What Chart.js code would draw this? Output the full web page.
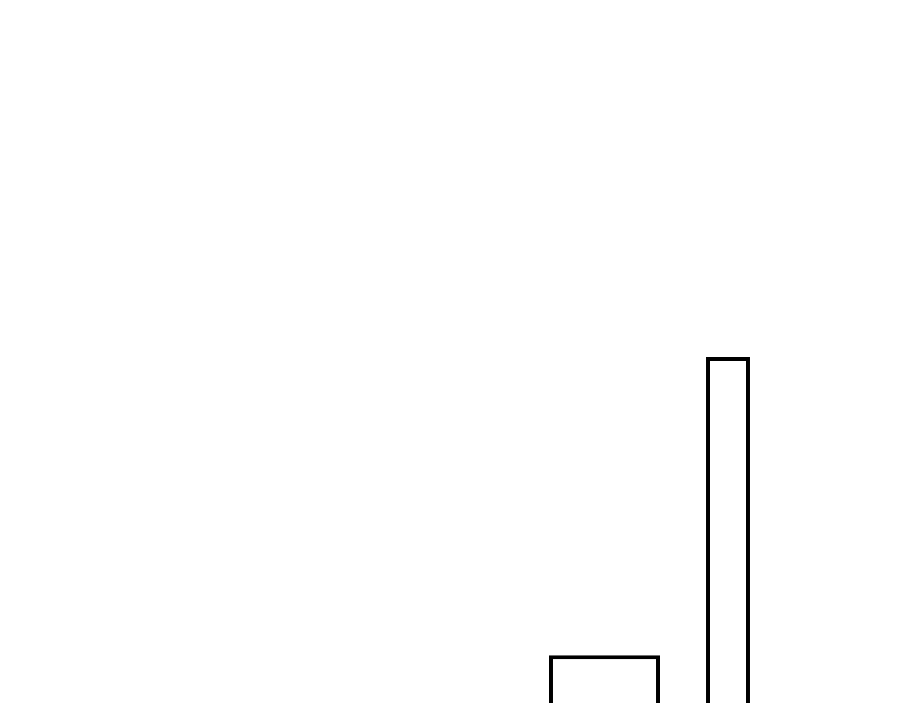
<!DOCTYPE html>
<html>
<head>
<meta charset="utf-8">
<script src="https://cdn.jsdelivr.net/npm/chart.js@4"></script>
<style>
  html, body { margin: 0; padding: 0; background: #fff; overflow: hidden; }
  #wrap { width: 900px; height: 703px; position: relative; }
</style>
</head>
<body>
<div id="wrap"><canvas id="barras"></canvas></div>
<script>
const categorias = ['1', '2', '3', '4', '5', '6'];
const serieLarga = [null, null, null, null, 6.8, null];
const serieEstreita = [null, null, null, null, null, 49.2];

const ctxBarras = document.getElementById('barras');

new Chart(ctxBarras, {
  type: 'bar',
  data: {
    labels: categorias,
    datasets: [{
      data: serieLarga,
      backgroundColor: '#ffffff',
      borderColor: '#000000',
      borderWidth: 4,
      barPercentage: 0.899,
      categoryPercentage: 1
    }, {
      data: serieEstreita,
      backgroundColor: '#ffffff',
      borderColor: '#000000',
      borderWidth: 4,
      barPercentage: 0.356,
      categoryPercentage: 1
    }]
  },
  options: {
    responsive: true,
    maintainAspectRatio: false,
    animation: false,
    grouped: false,
    layout: {
      padding: { left: 48.75, right: 110.25, top: 0, bottom: 0 }
    },
    plugins: {
      legend: { display: false },
      tooltip: { enabled: false }
    },
    scales: {
      x: { display: false },
      y: { display: false, min: 0, max: 100 }
    }
  }
});
</script>
</body>
</html>
